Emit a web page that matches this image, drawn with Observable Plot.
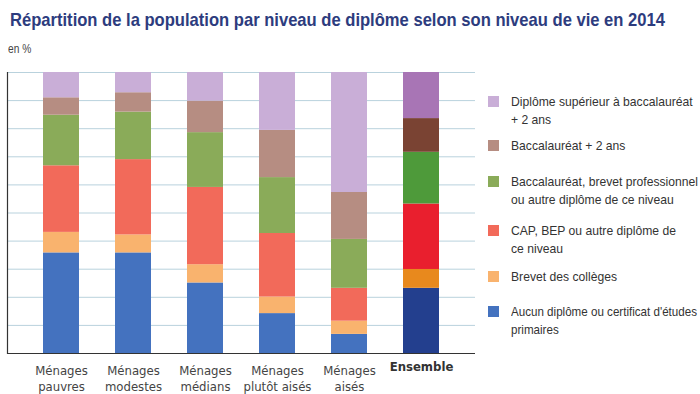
<!DOCTYPE html>
<html><head><meta charset="utf-8">
<script src="https://cdn.jsdelivr.net/npm/d3@7"></script>
<script src="https://cdn.jsdelivr.net/npm/@observablehq/plot@0.6"></script>
<style>
html,body{margin:0;padding:0;background:#fff;overflow:hidden}
#wrap{position:relative;width:700px;height:394px;overflow:hidden;font-family:"Liberation Sans",Arial,sans-serif}
#title{position:absolute;left:10px;top:9px;font-size:18.5px;font-weight:bold;color:#2d3c7e;white-space:nowrap;transform-origin:0 0}
#unit{position:absolute;left:8px;top:42px;font-size:12px;color:#444;transform-origin:0 0;transform:scaleX(0.85)}
#chart{position:absolute;left:0;top:0}
#legend{position:absolute;left:488px;top:0;width:212px;font-size:13.5px;color:#333}
.item{position:absolute;left:0;white-space:nowrap;line-height:17.5px}
.sw{position:absolute;left:0;top:3px;width:11px;height:11px}
.lt{position:absolute;left:23px;top:0;transform-origin:0 0}
</style></head>
<body><div id="wrap"><div id="chart"></div><div id="title">Répartition de la population par niveau de diplôme selon son niveau de vie en 2014</div><div id="unit">en %</div><div id="legend"></div></div>
<script>
const categories = ["Ménages\npauvres","Ménages\nmodestes","Ménages\nmédians","Ménages\nplutôt aisés","Ménages\naisés","Ensemble"];
const series = ["Aucun diplôme ou certificat d'études primaires","Brevet des collèges","CAP, BEP ou autre diplôme de ce niveau","Baccalauréat, brevet professionnel ou autre diplôme de ce niveau","Baccalauréat + 2 ans","Diplôme supérieur à baccalauréat + 2 ans"];
const legendLabels = ["Aucun diplôme ou certificat d'études\nprimaires","Brevet des collèges","CAP, BEP ou autre diplôme de\nce niveau","Baccalauréat, brevet professionnel\nou autre diplôme de ce niveau","Baccalauréat + 2 ans","Diplôme supérieur à baccalauréat\n+ 2 ans"];
// shares (%) per category, one array per series
const aucun     = [35.8, 35.8, 25.1, 14.2,  6.8, 23.2];
const brevet    = [ 7.3,  6.4,  6.5,  5.9,  4.7,  6.7];
const cap       = [23.7, 26.8, 27.5, 22.6, 11.7, 23.3];
const bac       = [18.0, 16.9, 19.5, 19.9, 17.4, 18.4];
const bac2      = [ 6.2,  6.9, 11.2, 16.8, 16.7, 12.0];
const supBac2   = [ 9.0,  7.2, 10.2, 20.6, 42.7, 16.4];
const values = [aucun, brevet, cap, bac, bac2, supBac2];
const colors = ["#4472bf","#f9b36e","#f26a5a","#8aab59","#b68d82","#c9aed7"];
const colorsEnsemble = ["#233f8e","#e8891d","#e91f2e","#4e9a3a","#7a4333","#a875b5"];
const gridTicks = [10,20,30,40,50,60,70,80,90,100];

const data = [];
series.forEach((s, i) => categories.forEach((c, j) => {
  data.push({cat: c, series: s, value: values[i][j], color: c === "Ensemble" ? colorsEnsemble[i] : colors[i]});
}));

const plot = Plot.plot({
  width: 700, height: 394,
  marginTop: 72, marginBottom: 41, marginLeft: 7, marginRight: 225,
  x: {domain: categories, padding: 0.5, axis: null},
  y: {domain: [0, 100], axis: null},
  style: {fontFamily: '"DejaVu Sans Condensed","Liberation Sans",sans-serif', background: "transparent"},
  marks: [
    Plot.ruleY(gridTicks, {stroke: "#b9d2dd", strokeWidth: 1}),
    Plot.barY(data, {x: "cat", y: "value", fill: "color"}),
    Plot.ruleY([0], {stroke: "#333", strokeWidth: 1.2}),
    Plot.frame({anchor: "left", stroke: "#333", strokeWidth: 1.2}),
    Plot.text(categories.filter(c => c !== "Ensemble"), {x: d => d, y: 0, text: d => d, dy: 9, lineAnchor: "top", fontSize: 13, fill: "#444", lineHeight: 1.3}),
    Plot.text(["Ensemble"], {x: d => d, y: 0, text: d => d, dy: 8, lineAnchor: "top", fontSize: 13, fontWeight: "bold", fill: "#333"})
  ]
});
document.getElementById("chart").appendChild(plot);

// fit title to reference width
const title = document.getElementById("title");
const tw = title.scrollWidth;
title.style.transform = "scaleX(" + (655 / tw) + ")";

const tops = [303, 268, 222, 173, 137, 93];
const legend = document.getElementById("legend");
const texts = [];
legendLabels.forEach((lab, i) => {
  const it = document.createElement("div");
  it.className = "item";
  it.style.top = tops[i] + "px";
  const sw = document.createElement("div");
  sw.className = "sw"; sw.style.background = colors[i];
  const t = document.createElement("div");
  t.className = "lt"; t.innerHTML = lab.split("\n").join("<br>");
  it.appendChild(sw); it.appendChild(t);
  legend.appendChild(it);
  texts.push(t);
});
// narrow the legend text so "Baccalauréat, brevet professionnel" spans ~187px
const probe = document.createElement("span");
probe.style.cssText = "position:absolute;visibility:hidden;white-space:nowrap;font-size:13.5px";
probe.textContent = "Baccalauréat, brevet professionnel";
legend.appendChild(probe);
const k = 187 / probe.getBoundingClientRect().width;
probe.textContent = "Aucun diplôme ou certificat d'études";
const k0 = Math.min(k, 186 / probe.getBoundingClientRect().width);
probe.remove();
texts.forEach((t, i) => t.style.transform = "scaleX(" + (i === 0 ? k0 : k) + ")");
</script></body></html>
